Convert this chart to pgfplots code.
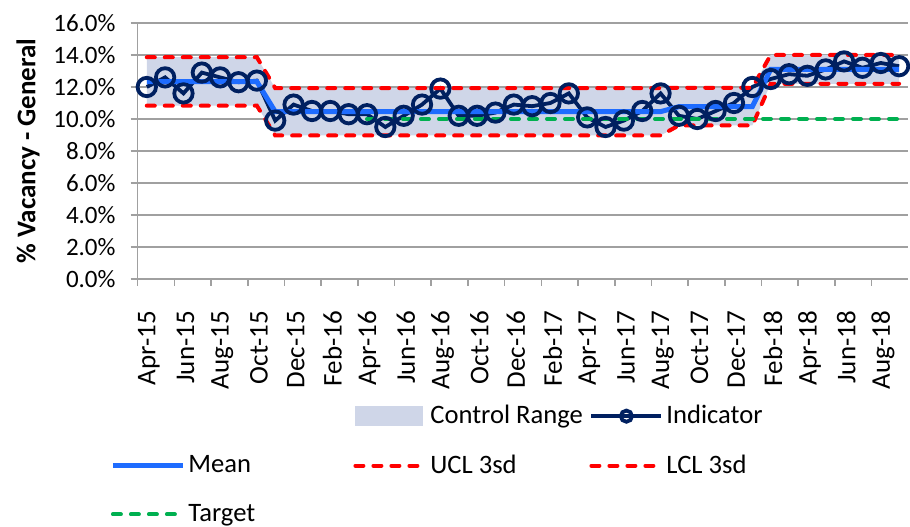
\documentclass[border=0pt]{standalone}
\usepackage{fontspec}
\setmainfont{Carlito}
\usepackage{pgfplots}
\pgfplotsset{compat=1.18}
\usepackage{pgfplotstable}
\usepgfplotslibrary{fillbetween}

\definecolor{gridgray}{RGB}{160,160,160}
\definecolor{ctrl}{RGB}{207,214,232}
\definecolor{navy}{RGB}{0,32,96}
\definecolor{meanblue}{RGB}{30,108,255}
\definecolor{uclred}{RGB}{255,0,0}
\definecolor{tgreen}{RGB}{0,176,80}

\pgfplotstableread{
x ind mean ucl lcl
0 12.0 12.33 13.86 10.83
1 12.6 12.33 13.86 10.83
2 11.6 12.33 13.86 10.83
3 12.9 12.33 13.86 10.83
4 12.6 12.33 13.86 10.83
5 12.3 12.33 13.86 10.83
6 12.4 12.33 13.86 10.83
7 9.9 10.46 11.93 8.97
8 10.9 10.46 11.93 8.97
9 10.5 10.46 11.93 8.97
10 10.5 10.46 11.93 8.97
11 10.3 10.46 11.93 8.97
12 10.3 10.46 11.93 8.97
13 9.5 10.46 11.93 8.97
14 10.2 10.46 11.93 8.97
15 10.9 10.46 11.93 8.97
16 11.9 10.46 11.93 8.97
17 10.2 10.46 11.93 8.97
18 10.2 10.46 11.93 8.97
19 10.4 10.46 11.93 8.97
20 10.9 10.46 11.93 8.97
21 10.8 10.46 11.93 8.97
22 11.0 10.46 11.93 8.97
23 11.6 10.46 11.93 8.97
24 10.1 10.46 11.93 8.97
25 9.5 10.46 11.93 8.97
26 9.9 10.46 11.93 8.97
27 10.5 10.46 11.93 8.97
28 11.6 10.46 11.93 8.97
29 10.2 10.77 11.95 9.60
30 10.0 10.77 11.95 9.60
31 10.5 10.77 11.95 9.60
32 11.0 10.77 11.95 9.60
33 12.0 10.77 11.95 9.60
34 12.5 13.10 14.00 12.20
35 12.8 13.10 14.00 12.20
36 12.7 13.10 14.00 12.20
37 13.1 13.10 14.00 12.20
38 13.6 13.10 14.00 12.20
39 13.2 13.10 14.00 12.20
40 13.5 13.10 14.00 12.20
41 13.3 13.10 14.00 12.20
}\data

\pgfplotstableread{
x target
12 10.0
13 10.0
14 10.0
15 10.0
16 10.0
17 10.0
18 10.0
19 10.0
20 10.0
21 10.0
22 10.0
23 10.0
24 10.0
25 10.0
26 10.0
27 10.0
28 10.0
29 10.0
30 10.0
31 10.0
32 10.0
33 10.0
34 10.0
35 10.0
36 10.0
37 10.0
38 10.0
39 10.0
40 10.0
41 10.0
}\targetdata

\begin{document}
\begin{tikzpicture}
\begin{axis}[
  scale only axis,
  width=385.35pt, height=128pt,
  xmin=-0.5, xmax=41.5, ymin=0, ymax=16,
  axis x line*=bottom, axis y line*=left,
  axis line style={gridgray, line width=0.8pt},
  tick align=outside,
  major tick length=3.5pt,
  ytick={0,2,...,16},
  ymajorgrids,
  grid style={gridgray, line width=0.8pt},
  ytick style={gridgray, line width=0.8pt},
  /pgf/number format/assume math mode=true,
  yticklabel={\pgfmathprintnumber[fixed,fixed zerofill,precision=1]{\tick}\%},
  yticklabel style={font=\fontsize{12.5}{15}\selectfont, xshift=-4pt},
  xtick={0.5,2.5,...,40.5},
  xticklabels={Apr-15,Jun-15,Aug-15,Oct-15,Dec-15,Feb-16,Apr-16,Jun-16,Aug-16,Oct-16,Dec-16,Feb-17,Apr-17,Jun-17,Aug-17,Oct-17,Dec-17,Feb-18,Apr-18,Jun-18,Aug-18},
  xtick style={draw=none},
  extra x ticks={-0.5,1.5,...,39.5},
  extra x tick labels={},
  extra x tick style={xtick style={draw=gridgray, line width=0.8pt}, grid=none},
  xticklabel style={font=\fontsize{13.5}{16}\selectfont, xshift=-3.5pt, yshift=-9pt, rotate=90, anchor=east},
  ylabel={\% Vacancy - General},
  every axis y label/.style={at={(axis description cs:-0.1422,0.5)}, rotate=90, anchor=center, font=\fontsize{13.5}{16}\selectfont\bfseries},
  legend columns=3,
  legend cell align=left,
  legend image code/.code={\draw[mark repeat=2,mark phase=2,#1] plot coordinates {(0pt,0pt) (17.5pt,0pt) (35pt,0pt)};},
  legend style={
    draw=none, fill=none, inner sep=0pt,
    at={(axis description cs:-0.0358,-0.4845)}, anchor=north west,
    font=\fontsize{13.3}{16}\selectfont,
    row sep=12pt,
    /tikz/every odd column/.style={column sep=1.5pt},
    /tikz/every even column/.style={column sep=0pt},
    nodes={inner xsep=0pt, inner ysep=1pt},
  },
]
\coordinate (O) at (axis cs:-0.5,0);

\addplot[name path=U, draw=none, forget plot] table[x=x,y=ucl]{\data};
\addplot[name path=L, draw=none, forget plot] table[x=x,y=lcl]{\data};
\addplot[fill=ctrl, draw=none, forget plot] fill between[of=U and L];

\addplot[navy, line width=1.9pt, mark=o, mark size=4.6pt, mark options={solid, line width=1.9pt}, forget plot] table[x=x,y=ind]{\data};
\addplot[meanblue, line width=2.5pt, forget plot] table[x=x,y=mean]{\data};
\addplot[uclred, line width=2pt, line cap=round, dash pattern=on 4pt off 5pt, forget plot] table[x=x,y=ucl]{\data};
\addplot[uclred, line width=2pt, line cap=round, dash pattern=on 4pt off 5pt, forget plot] table[x=x,y=lcl]{\data};
\addplot[tgreen, line width=2pt, line cap=round, dash pattern=on 4pt off 5pt, forget plot] table[x=x,y=target]{\targetdata};

\addlegendimage{empty legend}
\addlegendentry{}
\addlegendimage{legend image code/.code={\fill[ctrl] (0pt,-4.75pt) rectangle (33.5pt,4.75pt);}}
\addlegendentry{\makebox[79.5pt][l]{Control Range}}
\addlegendimage{navy, line width=2pt, mark=o, mark size=2.8pt, mark options={solid, line width=1.9pt}}
\addlegendentry{Indicator}
\addlegendimage{meanblue, line width=2.5pt}
\addlegendentry{\makebox[82.5pt][l]{Mean}}
\addlegendimage{uclred, line width=2pt, line cap=round, dash pattern=on 4pt off 5pt}
\addlegendentry{\makebox[79.5pt][l]{UCL 3sd}}
\addlegendimage{uclred, line width=2pt, line cap=round, dash pattern=on 4pt off 5pt}
\addlegendentry{LCL 3sd}
\addlegendimage{tgreen, line width=2pt, line cap=round, dash pattern=on 4pt off 5pt}
\addlegendentry{Target}
\end{axis}
\path (O) ++(-68.8pt,-123pt) rectangle ++(455pt,262.5pt);
\end{tikzpicture}
\end{document}
